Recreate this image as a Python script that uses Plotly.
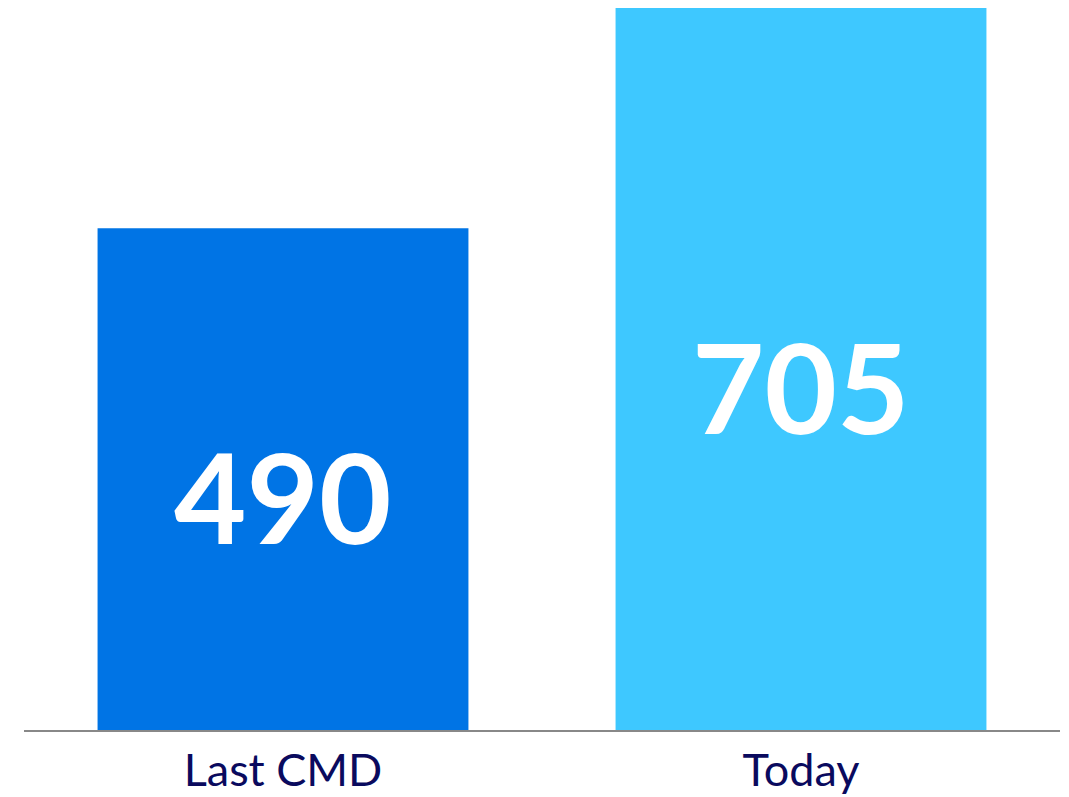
import plotly.graph_objects as go

categories = ["Last CMD", "Today"]
values = [490, 705]
bar_colors = ["#0074E5", "#3EC8FF"]
value_labels = ["490", "705"]

fig = go.Figure()
fig.add_trace(go.Bar(
    x=categories,
    y=values,
    marker=dict(color=bar_colors, line=dict(width=0)),
    width=0.716,
    hoverinfo="skip",
))

for cat, val, lab in zip(categories, values, value_labels):
    fig.add_annotation(
        x=cat, y=val / 2, text=lab, showarrow=False,
        xanchor="center", yanchor="middle", yshift=-17,
        font=dict(family="Lato", size=125, color="white", weight="bold"),
    )

fig.update_layout(
    width=1061,
    height=797,
    margin=dict(l=16, r=9, t=0, b=75),
    paper_bgcolor="white",
    plot_bgcolor="white",
    showlegend=False,
)
fig.update_xaxes(
    showline=True,
    linecolor="#888888",
    linewidth=2,
    showgrid=False,
    ticks="",
    automargin=False,
    ticklabelstandoff=0,
    tickfont=dict(family="Lato", size=45, color="#0A0A5E"),
)
fig.update_yaxes(
    range=[0, 705],
    visible=False,
    showgrid=False,
    zeroline=False,
    automargin=False,
)

fig.write_html("out.html")
